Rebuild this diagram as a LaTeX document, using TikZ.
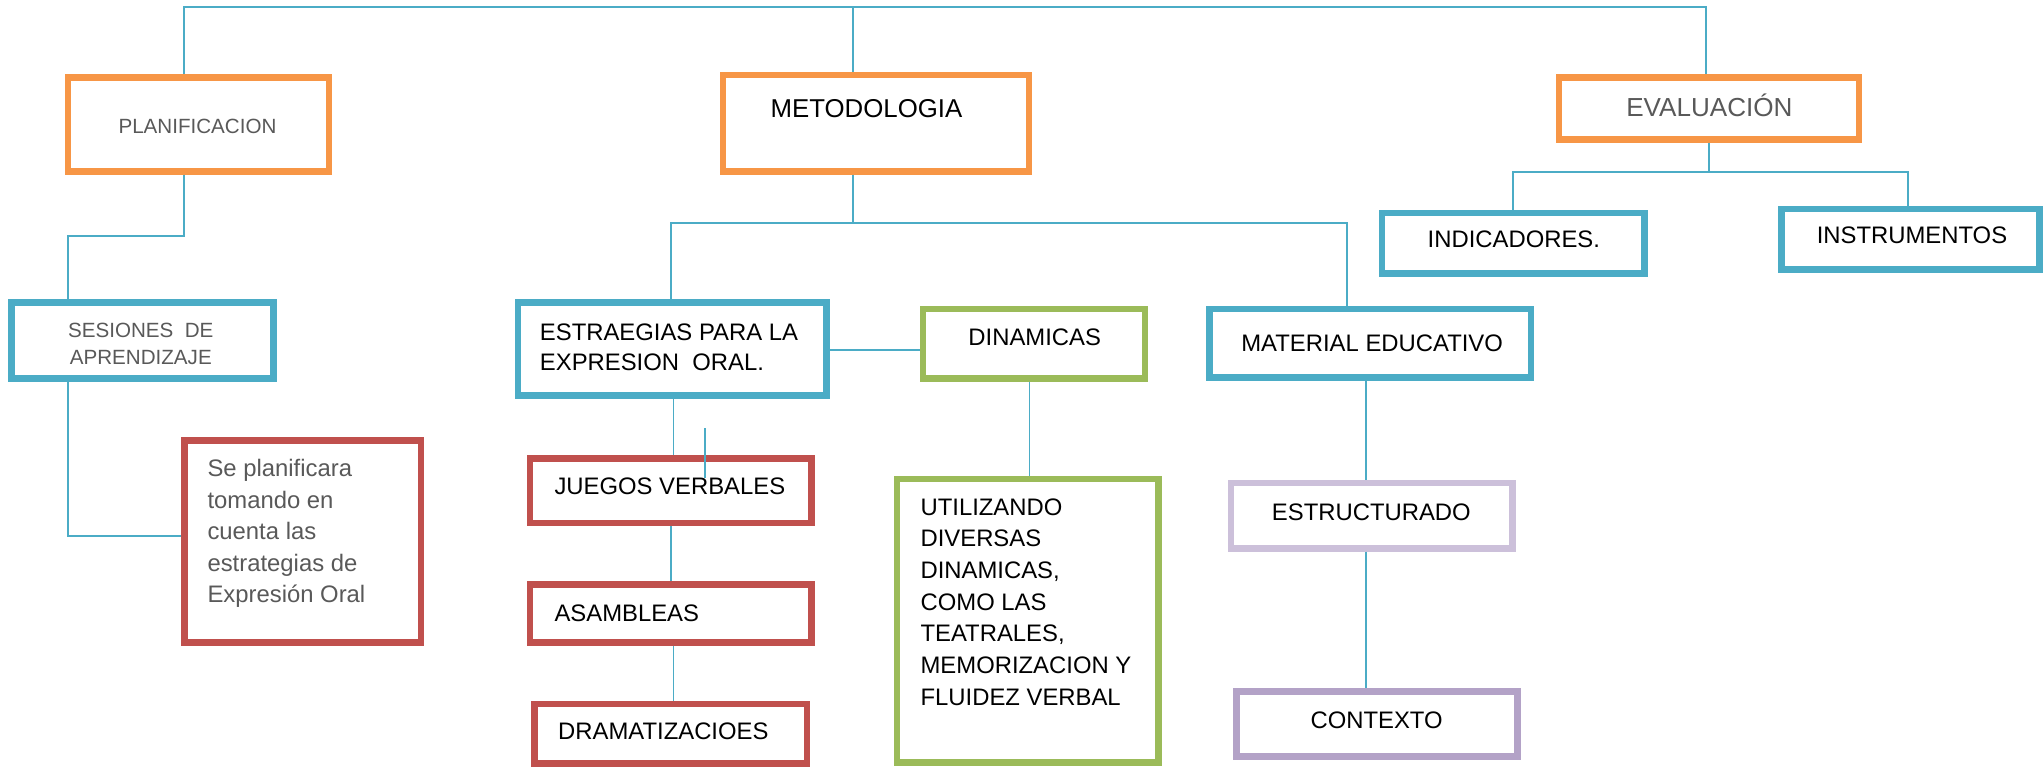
\documentclass[tikz,border=0pt]{standalone}
\usepackage{fontspec}
\setmainfont{Liberation Sans}
\usetikzlibrary{fit}
\definecolor{cOrange}{HTML}{F79646}
\definecolor{cBlue}{HTML}{4BACC6}
\definecolor{cRed}{HTML}{C0504D}
\definecolor{cGreen}{HTML}{9BBB59}
\definecolor{cLav}{HTML}{CCC0DA}
\definecolor{cPurp}{HTML}{B3A2C7}
\definecolor{cGray}{HTML}{595959}
\begin{document}
\begin{tikzpicture}[x=1pt,y=-1pt,
  box/.style={draw=#1, line width=5pt, inner sep=0pt, rectangle},
  wire/.style={draw=cBlue, line width=1.4pt},
  lbl/.style={inner sep=0pt, font=\fontsize{18.3}{24.2}\selectfont, text=black, align=left},
  glbl/.style={inner sep=0pt, font=\fontsize{15.8}{21}\selectfont, text=cGray, align=center}
]
\useasboundingbox[fill=white] (0,0) rectangle (1568,589);

% boxes
\node[box=cOrange, fit={(52,59.5)(252.5,131.5)}] (plan) {};
\node[box=cOrange, fit={(554.5,57.5)(789.5,131.5)}] (metod) {};
\node[box=cOrange, fit={(1196,59.3)(1426,107)}] (eval) {};
\node[box=cBlue, fit={(9,232)(210,290.5)}] (ses) {};
\node[box=cBlue, fit={(397.5,232)(634,303.5)}] (estr) {};
\node[box=cGreen, fit={(708,237)(878.3,290.5)}] (din) {};
\node[box=cBlue, fit={(928,237)(1174.3,289.5)}] (mat) {};
\node[box=cBlue, fit={(1060,163.5)(1261.5,210)}] (indic) {};
\node[box=cBlue, fit={(1366.5,160.3)(1564.5,206.7)}] (instr) {};
\node[box=cRed, fit={(141.4,338)(323,492.8)}] (red) {};
\node[box=cRed, fit={(406.7,351.8)(622.4,401.2)}] (jueg) {};
\node[box=cRed, fit={(406.7,448.5)(622.4,492.8)}] (asam) {};
\node[box=cRed, fit={(410,540)(619,585.5)}] (dram) {};
\node[box=cGreen, fit={(688.2,367.6)(888.6,584.9)}] (util) {};
\node[box=cLav, fit={(944.5,370.7)(1160.3,420.7)}] (estruc) {};
\node[box=cPurp, fit={(948.5,530.5)(1164.2,580.5)}] (ctx) {};

% connector coordinates
\coordinate (tbL) at (141,5.6);
\coordinate (tbR) at (1308.5,5.6);
\coordinate (mx) at (654.5,5.6);
\coordinate (pA) at (141,180.8);
\coordinate (pB) at (52.2,180.8);
\coordinate (sA) at (52.2,411);
\coordinate (mA) at (654.5,171.3);
\coordinate (mL) at (515,171.3);
\coordinate (mR) at (1033.6,171.3);
\coordinate (eD) at (0,268.2);
\coordinate (jx) at (516.7,0);
\coordinate (ax) at (515,0);
\coordinate (dx) at (516.7,0);
\coordinate (st1) at (541,328.6);
\coordinate (st2) at (541,367);
\coordinate (ux) at (789.8,0);
\coordinate (kx) at (1047.7,0);
\coordinate (vA) at (1310.8,132.2);
\coordinate (vL) at (1160.7,132.2);
\coordinate (vR) at (1463.7,132.2);

% connectors
\draw[wire] (plan.north -| tbL) -- (tbL) -- (tbR) -- (tbR |- eval.north);
\draw[wire] (metod.north -| mx) -- (mx);
\draw[wire] (plan.south -| pA) -- (pA) -- (pB) -- (pB |- ses.north);
\draw[wire] (ses.south -| sA) -- (sA) -- (sA -| red.west);
\draw[wire] (metod.south -| mA) -- (mA);
\draw[wire] (mL |- estr.north) -- (mL) -- (mR) -- (mR |- mat.north);
\draw[wire] (estr.east |- eD) -- (din.west |- eD);
\draw[wire] (estr.south -| jx) -- (jueg.north -| jx);
\draw[wire] (st1) -- (st2);
\draw[wire] (jueg.south -| ax) -- (asam.north -| ax);
\draw[wire] (asam.south -| dx) -- (dram.north -| dx);
\draw[wire] (din.south -| ux) -- (util.north -| ux);
\draw[wire] (mat.south -| kx) -- (estruc.north -| kx);
\draw[wire] (estruc.south -| kx) -- (ctx.north -| kx);
\draw[wire] (eval.south -| vA) -- (vA);
\draw[wire] (vL |- indic.north) -- (vL) -- (vR) -- (vR |- instr.north);

% texts
\node[glbl, anchor=base] (planT) at (151.5,102.4) {PLANIFICACION};
\node[lbl, anchor=base, font=\fontsize{19.8}{24}\selectfont] (metodT) at (664.7,90.5) {METODOLOGIA};
\node[glbl, anchor=base, font=\fontsize{20}{24}\selectfont] (evalT) at (1311.3,89) {EVALUACIÓN};
\node[glbl, anchor=base] (sesT) at (108,279.7) {SESIONES\ \ DE\\APRENDIZAJE};
\node[lbl, anchor=base west, font=\fontsize{18.3}{23}\selectfont] (estrT) at (414,284) {ESTRAEGIAS PARA LA\\EXPRESION\ \ ORAL.};
\node[lbl, anchor=base west] (dinT) at (742.7,264.9) {DINAMICAS};
\node[lbl, anchor=base] (matT) at (1052.6,270) {MATERIAL EDUCATIVO};
\node[lbl, anchor=base] (indicT) at (1161.3,190.2) {INDICADORES.};
\node[lbl, anchor=base] (instrT) at (1466.7,187) {INSTRUMENTOS};
\node[lbl, anchor=base west, text=cGray] (redT) at (159,462.4) {Se planificara\\tomando en\\cuenta las\\estrategias de\\Expresión Oral};
\node[lbl, anchor=base west] (juegT) at (425.2,379.4) {JUEGOS VERBALES};
\node[lbl, anchor=base west] (asamT) at (425.2,476.5) {ASAMBLEAS};
\node[lbl, anchor=base west] (dramT) at (428,567) {DRAMATIZACIOES};
\node[lbl, anchor=base west, font=\fontsize{18.3}{24.3}\selectfont] (utilT) at (706,541) {UTILIZANDO\\DIVERSAS\\DINAMICAS,\\COMO LAS\\TEATRALES,\\MEMORIZACION Y\\FLUIDEZ VERBAL};
\node[lbl, anchor=base] (estrucT) at (1052,399) {ESTRUCTURADO};
\node[lbl, anchor=base] (ctxT) at (1056,558.9) {CONTEXTO};
\end{tikzpicture}
\end{document}
